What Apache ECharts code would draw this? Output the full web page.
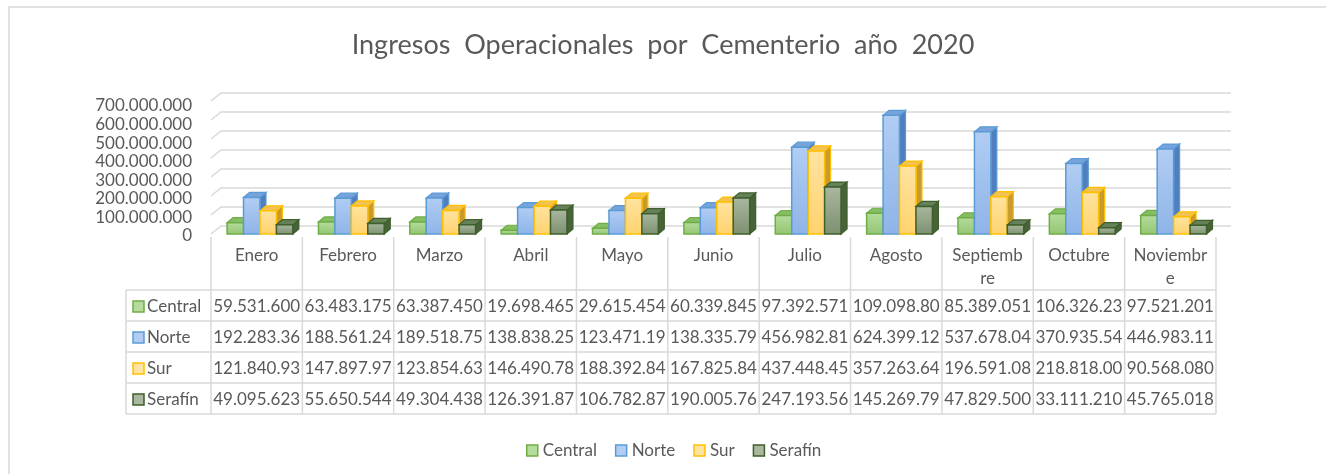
<!DOCTYPE html>
<html>
<head>
<meta charset="utf-8">
<script src="https://cdn.jsdelivr.net/npm/echarts@6/dist/echarts.min.js"></script>
<style>
  html, body { margin: 0; padding: 0; background: #fff; }
  #chart { width: 1326px; height: 474px; }
</style>
</head>
<body>
<div id="chart"></div>
<script>
// datos
const categorias = ['Enero', 'Febrero', 'Marzo', 'Abril', 'Mayo', 'Junio', 'Julio', 'Agosto', 'Septiembre', 'Octubre', 'Noviembre'];
const central = [59531600, 63483175, 63387450, 19698465, 29615454, 60339845, 97392571, 109098800, 85389051, 106326230, 97521201];
const norte = [192283360, 188561240, 189518750, 138838250, 123471190, 138335790, 456982810, 624399120, 537678040, 370935540, 446983110];
const sur = [121840930, 147897970, 123854630, 146490780, 188392840, 167825840, 437448450, 357263640, 196591080, 218818000, 90568080];
const serafin = [49095623, 55650544, 49304438, 126391870, 106782870, 190005760, 247193560, 145269790, 47829500, 33111210, 45765018];
const yTicks = [0, 100000000, 200000000, 300000000, 400000000, 500000000, 600000000, 700000000];

const nombres = ['Central', 'Norte', 'Sur', 'Serafín'];
const valores = [central, norte, sur, serafin];
const estilos = [
  { front: ['#b5dc9d', '#93c572'], border: '#70ad47', top: '#86bf62', side: '#5f9a3a' },
  { front: ['#b1cdf3', '#8eb4e8'], border: '#5b9bd5', top: '#77a3dc', side: '#4f7fbf' },
  { front: ['#ffe3a0', '#ffd36e'], border: '#ffc000', top: '#f2c352', side: '#c99a2e' },
  { front: ['#a9b89f', '#7d9070'], border: '#3f5f2b', top: '#66815a', side: '#46633a' }
];
const gris = '#595959';
const linea = '#d9d9d9';
const fuente = 'Lato';

function puntos(v) {
  return String(v).replace(/\B(?=(\d{3})+(?!\d))/g, '.');
}
// la tabla de Excel corta el texto a lo que cabe en la celda
function celda(v) {
  return puntos(v).slice(0, 10);
}

const chart = echarts.init(document.getElementById('chart'));

function barra3d(s) {
  return function (params, api) {
    const i = api.value(0);
    const top = api.coord([i, api.value(1)]);
    const bot = api.coord([i, 0]);
    const band = api.size([1, 0])[0];
    const w = band * 0.18;
    const x = top[0] - 2 * w + band * 0.036 + s * w;
    const d = 6, e = 5;
    const st = estilos[s];
    return {
      type: 'group',
      children: [
        {
          type: 'polygon',
          shape: { points: [[x + w, top[1]], [x + w + d, top[1] - e], [x + w + d, bot[1] - e], [x + w, bot[1]]] },
          style: { fill: st.side, stroke: st.border, lineWidth: 1.2 }
        },
        {
          type: 'polygon',
          shape: { points: [[x, top[1]], [x + w, top[1]], [x + w + d, top[1] - e], [x + d, top[1] - e]] },
          style: { fill: st.top, stroke: st.border, lineWidth: 1.2 }
        },
        {
          type: 'rect',
          shape: { x: x, y: top[1], width: w, height: bot[1] - top[1] },
          style: {
            fill: new echarts.graphic.LinearGradient(0, 0, 0, 1, [
              { offset: 0, color: st.front[0] }, { offset: 1, color: st.front[1] }
            ]),
            stroke: st.border, lineWidth: 1.5
          }
        }
      ]
    };
  };
}

// pared del fondo: lineas de division con perspectiva
function pared(params, api) {
  const p = api.coord([0, api.value(1)]);
  const band = api.size([1, 0])[0];
  const left = p[0] - band / 2;
  const right = left + band * categorias.length;
  return {
    type: 'polyline',
    shape: { points: [[left, p[1]], [left + 10, p[1] - 8], [right + 15, p[1] - 8]] },
    style: { stroke: linea, lineWidth: 1.5, fill: null }
  };
}

function tabla(params, api) {
  const i = api.value(0);
  const c = api.coord([i, 0]);
  const band = api.size([1, 0])[0];
  const left = c[0] - band / 2, right = c[0] + band / 2;
  const headTop = c[1] + 3;
  const rowTop = c[1] + 56;
  const rowH = 31;
  const bottom = rowTop + rowH * 4;
  const kids = [];
  const ln = (x1, y1, x2, y2) => kids.push({
    type: 'line', shape: { x1: x1, y1: y1, x2: x2, y2: y2 },
    style: { stroke: linea, lineWidth: 1.5 }
  });
  ln(left, headTop, left, bottom);
  if (i === categorias.length - 1) ln(right, headTop, right, bottom);
  for (let r = 0; r <= 4; r++) ln(left, rowTop + r * rowH, right, rowTop + r * rowH);
  for (let r = 0; r < 4; r++) {
    kids.push({
      type: 'text',
      style: {
        text: celda(valores[r][i]), x: c[0], y: rowTop + r * rowH + rowH / 2 + 1,
        align: 'center', verticalAlign: 'middle', fill: gris, fontSize: 17, fontFamily: fuente
      }
    });
  }
  if (i === 0) {
    const hl = left - 85;
    ln(hl, rowTop, hl, bottom);
    for (let r = 0; r <= 4; r++) ln(hl, rowTop + r * rowH, left, rowTop + r * rowH);
    for (let r = 0; r < 4; r++) {
      const yc = rowTop + r * rowH + rowH / 2 + 1;
      kids.push({
        type: 'rect', shape: { x: hl + 7, y: yc - 5.5, width: 11, height: 11 },
        style: { fill: estilos[r].front[0], stroke: estilos[r].border, lineWidth: 1.5 }
      });
      kids.push({
        type: 'text',
        style: {
          text: nombres[r], x: hl + 21, y: yc, align: 'left', verticalAlign: 'middle',
          fill: gris, fontSize: 17, fontFamily: fuente
        }
      });
    }
  }
  return { type: 'group', children: kids };
}

const series = [
  {
    name: 'pared', type: 'custom', xAxisIndex: 0, yAxisIndex: 0, silent: true,
    renderItem: pared, data: yTicks.map(v => [0, v]), clip: false, z: 1
  },
  {
    name: 'tabla', type: 'custom', xAxisIndex: 0, yAxisIndex: 0, silent: true,
    renderItem: tabla, data: categorias.map((c, i) => [i, 0]), clip: false, z: 1
  }
];
nombres.forEach((n, s) => {
  series.push({
    name: n,
    type: 'custom',
    xAxisIndex: 0,
    yAxisIndex: 0,
    renderItem: barra3d(s),
    itemStyle: { color: estilos[s].front[0], borderColor: estilos[s].border, borderWidth: 1.5 },
    data: valores[s].map((v, i) => [i, v]),
    clip: false,
    z: 3 + s
  });
});

chart.setOption({
  backgroundColor: '#fff',
  animation: false,
  textStyle: { fontFamily: fuente },
  title: {
    text: 'Ingresos  Operacionales  por  Cementerio  año  2020',
    left: 'center',
    top: 27,
    textStyle: { fontSize: 27, fontWeight: 'normal', color: gris, fontFamily: fuente }
  },
  legend: {
    data: nombres.map((n, s) => ({
      name: n,
      itemStyle: { color: estilos[s].front[0], borderColor: estilos[s].border, borderWidth: 1.5 }
    })),
    left: 521,
    top: 437,
    icon: 'rect',
    itemWidth: 11,
    itemHeight: 11,
    itemGap: 18,
    textStyle: { fontSize: 17, color: gris, fontFamily: fuente }
  },
  grid: [
    { left: 211, right: 110, top: 101, height: 133 },
    { left: 211, right: 110, top: 106, height: 130 }
  ],
  xAxis: [
    {
      type: 'category', gridIndex: 0, data: categorias,
      axisLine: { show: false }, axisTick: { show: false },
      axisLabel: {
        color: gris, fontSize: 17, fontFamily: fuente, margin: 10, lineHeight: 23,
        interval: 0,
        formatter: v => v.length >= 9 ? v.slice(0, 8) + '\n' + v.slice(8) : v
      }
    },
    { type: 'category', gridIndex: 1, data: categorias, show: false }
  ],
  yAxis: [
    {
      type: 'value', gridIndex: 0, min: 0, max: 700000000, interval: 100000000,
      axisLabel: { show: false }, splitLine: { show: false }, axisLine: { show: false }
    },
    {
      type: 'value', gridIndex: 1, min: 0, max: 700000000, interval: 100000000,
      splitLine: { show: false }, axisLine: { show: false }, axisTick: { show: false },
      axisLabel: { color: gris, fontSize: 17, fontFamily: fuente, margin: 19, formatter: v => puntos(v) }
    }
  ],
  graphic: [
    {
      type: 'rect', silent: true, z: -1,
      shape: { x: 9, y: 7, width: 1340, height: 500 },
      style: { fill: null, stroke: linea, lineWidth: 1.5 }
    }
  ],
  series: series
});
</script>
</body>
</html>
